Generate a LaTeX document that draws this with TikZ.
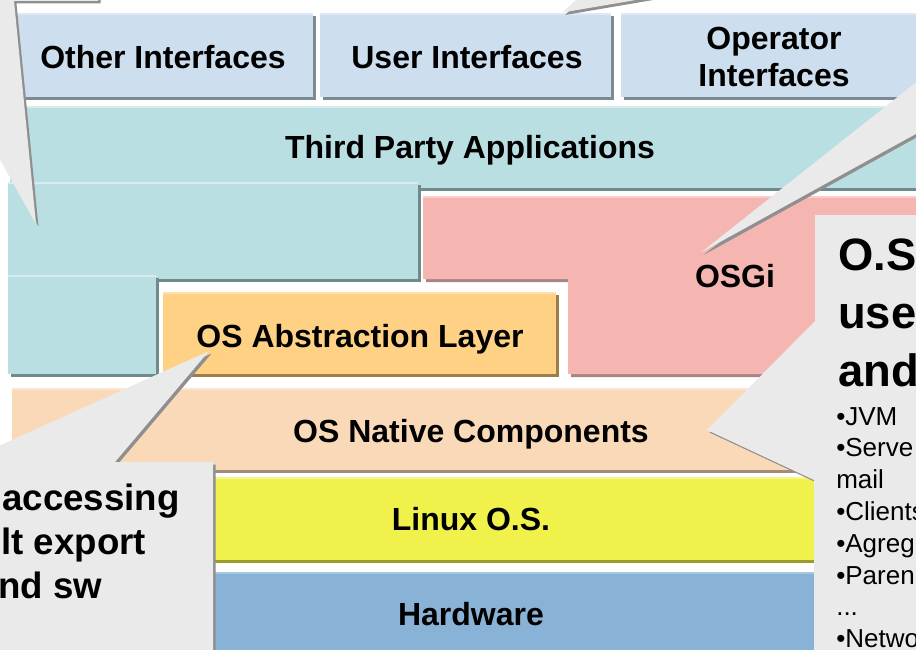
\documentclass[tikz,border=0pt]{standalone}
\usepackage{fontspec}
\setmainfont{Liberation Sans}
\definecolor{topbl}{HTML}{CDDFEE}\definecolor{topblsh}{HTML}{7C8A93}\definecolor{topblhi}{HTML}{DDE9F4}
\definecolor{teal}{HTML}{BADFE2}\definecolor{tealsh}{HTML}{6F8A8C}\definecolor{tealhi}{HTML}{D6ECEE}
\definecolor{pnk}{HTML}{F5B6B2}\definecolor{pnksh}{HTML}{A68482}\definecolor{pnkhi}{HTML}{F9CDC9}
\definecolor{orng}{HTML}{FED184}\definecolor{orngsh}{HTML}{9C7D4C}\definecolor{ornghi}{HTML}{FEE0AA}
\definecolor{peach}{HTML}{FAD9B9}\definecolor{peachsh}{HTML}{A28B77}\definecolor{peachhi}{HTML}{FCE6D2}
\definecolor{yel}{HTML}{F0F24B}\definecolor{yelsh}{HTML}{9B9B2E}\definecolor{yelhi}{HTML}{F5F690}
\definecolor{hwb}{HTML}{88B3D6}\definecolor{hwbsh}{HTML}{5F7D96}\definecolor{hwbhi}{HTML}{A6C7E2}
\definecolor{callfill}{HTML}{EAEAEA}\definecolor{callsh}{HTML}{8F8F8F}
\newcommand\layerbox[5]{%
  \fill[#5sh] (#1+3,#2+3) rectangle (#3+3,#4+3);
  \fill[#5] (#1,#2) rectangle (#3,#4);
  \fill[#5hi] (#1,#2) rectangle (#3,#2+2);}
\newcommand\calloutshape[1]{%
  \fill[callsh,shift={(2.5,2.5)}] #1;
  \fill[callfill] #1;}
\tikzset{
  lbl/.style={anchor=base, inner sep=0pt, font=\fontsize{24}{28}\selectfont\bfseries},
  bigcall/.style={anchor=base west, inner sep=0pt, font=\fontsize{34}{40}\selectfont\bfseries},
  leftcall/.style={anchor=base west, inner sep=0pt, font=\fontsize{27.5}{33}\selectfont\bfseries},
  bullet/.style={anchor=base west, inner sep=0pt, font=\fontsize{19.5}{23}\selectfont},
}
\begin{document}
\begin{tikzpicture}[x=0.75pt,y=-0.75pt]
\useasboundingbox (0,0) rectangle (916,649);
\fill[white] (0,0) rectangle (916,649);
\clip (0,0) rectangle (916,649);
% interface row
\layerbox{10}{13}{313}{97}{topbl}
\layerbox{320}{13}{611}{97}{topbl}
\layerbox{621}{13}{1000}{97}{topbl}
% third party applications (stepped)
\layerbox{10}{106}{1000}{188}{teal}
\layerbox{8}{182}{418}{279}{teal}
\layerbox{8}{275}{156}{374}{teal}
% OSGi
\fill[pnksh] (426,199) -- (1003,199) -- (1003,377) -- (571,377) -- (571,282) -- (426,282) -- cycle;
\fill[pnk] (423,196) -- (1000,196) -- (1000,374) -- (568,374) -- (568,279) -- (423,279) -- cycle;
\fill[pnkhi] (423,196) rectangle (1000,198);
% OS abstraction layer
\layerbox{163}{292}{556}{374}{orng}
% OS native components
\layerbox{12}{388}{1000}{470}{peach}
% Linux
\layerbox{150}{477}{1000}{560}{yel}
% Hardware
\layerbox{150}{572}{1000}{700}{hwb}
% callouts
\calloutshape{(-100,-50) -- (98,-50) -- (98,1) -- (14,1) -- (36,224) -- (-89,1) -- (-100,1) -- cycle}
\calloutshape{(562.5,12.5) -- (608,-30) -- (812,-30) -- cycle}
\calloutshape{(701,252.5) -- (1000,16) -- (1000,87.5) -- cycle}
\calloutshape{(815,215) -- (1000,215) -- (1000,700) -- (814,700) -- (814,480) -- (707,430) -- (815,321) -- cycle}
\calloutshape{(209,351) -- (115,462) -- (213,462) -- (213,700) -- (-50,700) -- (-50,468) -- cycle}
% labels
\node[lbl] (other) at (163,69) {Other Interfaces};
\node[lbl] (user) at (467,69) {User Interfaces};
\node[lbl] (op1) at (774,50) {Operator};
\node[lbl] (op2) at (774,87) {Interfaces};
\node[lbl] (third) at (470,158) {Third Party Applications};
\node[lbl] (osgi) at (735,287) {OSGi};
\node[lbl] (osal) at (360,347) {OS Abstraction Layer};
\node[lbl] (native) at (471,442) {OS Native Components};
\node[lbl] (linux) at (471,530) {Linux O.S.};
\node[lbl] (hw) at (471,625) {Hardware};
% right callout text
\node[bigcall] (r1) at (838,270) {O.S};
\node[bigcall] (r2) at (838,328) {use};
\node[bigcall] (r3) at (838,386) {and};
\node[bullet] (b1) at (836,425) {•JVM};
\node[bullet] (b2) at (836,456.8) {•Serve};
\node[bullet] (b3) at (836,488.6) {mail};
\node[bullet] (b4) at (836,520.4) {•Clients};
\node[bullet] (b5) at (836,552.2) {•Agreg};
\node[bullet] (b6) at (836,584) {•Paren};
\node[bullet] (b7) at (836,615.8) {...};
\node[bullet] (b8) at (836,647.6) {•Netwo};
% left callout text
\node[leftcall] (l1) at (2,510) {accessing};
\node[leftcall] (l2) at (1,554) {lt export};
\node[leftcall] (l3) at (-2,598) {nd sw};
\end{tikzpicture}
\end{document}
